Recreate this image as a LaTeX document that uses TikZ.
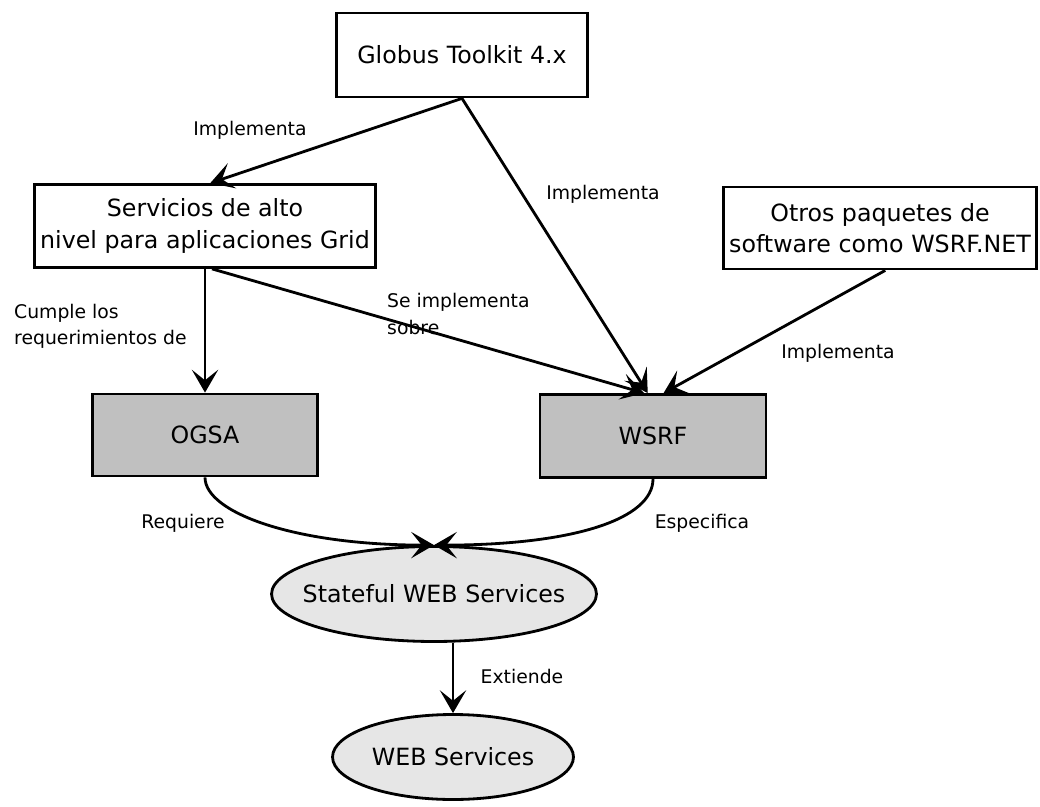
\documentclass[tikz,border=0pt]{standalone}
\usepackage{fontspec}
\setmainfont{DejaVu Sans}
\usetikzlibrary{arrows.meta, shapes.geometric}
\definecolor{boxgray}{RGB}{192,192,192}
\definecolor{ellgray}{RGB}{230,230,230}

\begin{document}
\begin{tikzpicture}
    [x=0.02cm, y=0.02cm,
     every node/.style={font=\fontsize{13.5}{18}\selectfont},
     box/.style={draw, line width=1.6pt, align=center, inner sep=0pt},
     grisbox/.style={box, fill=boxgray},
     nube/.style={ellipse, draw, line width=1.6pt, fill=ellgray, inner xsep=-20pt, inner ysep=0pt},
     etiqueta/.style={font=\fontsize{10.7}{15}\selectfont, align=left},
     flecha/.style={line width=1.6pt, -{Stealth[length=13pt, width=15pt, inset=6pt]}}]

    \useasboundingbox (0,0) rectangle (1040,-807);

    % cajas
    \node[box, minimum width=5.02cm, minimum height=1.68cm] (globus) at (462,-55) {Globus Toolkit 4.x};
    \node[box, minimum width=6.82cm, minimum height=1.66cm] (servicios) at (205,-226)
      {Servicios de alto\\nivel para aplicaciones Grid};
    \node[box, minimum width=6.26cm, minimum height=1.64cm] (otros) at (880,-228)
      {Otros paquetes de\\software como WSRF.NET};
    \node[grisbox, minimum width=4.5cm, minimum height=1.64cm] (ogsa) at (205,-435) {OGSA};
    \node[grisbox, minimum width=4.52cm, minimum height=1.66cm] (wsrf) at (653,-436) {WSRF};
    \node[nube, minimum width=6.5cm, minimum height=1.9cm] (stateful) at (434,-594) {Stateful WEB Services};
    \node[nube, minimum width=4.82cm, minimum height=1.7cm] (web) at (453,-757) {WEB Services};

    % flechas
    \draw[flecha] (globus.south) -- ([xshift=3pt]servicios.north);
    \draw[flecha] (globus.south) -- ([xshift=-3pt]wsrf.north);
    \draw[flecha] (servicios.south) -- (ogsa.north);
    \draw[flecha] ([xshift=4pt]servicios.south) -- ([xshift=-5pt]wsrf.north);
    \draw[flecha] ([xshift=3pt]otros.south) -- ([xshift=6pt]wsrf.north);
    \draw[flecha] (ogsa.south) .. controls +(0,-35) and +(-140,0) .. (stateful.north);
    \draw[flecha] (wsrf.south) .. controls +(0,-40) and +(140,0) .. (stateful.north);
    \draw[flecha] (web.north |- stateful.south) -- (web.north);

    % etiquetas
    \node[etiqueta] (implA) at (250,-130) {Implementa};
    \node[etiqueta] (implB) at (603,-194) {Implementa};
    \node[etiqueta] (implC) at (838,-353) {Implementa};
    \node[etiqueta, anchor=west] (cumple) at (8,-326) {Cumple los\\requerimientos de};
    \node[etiqueta, anchor=west] (sobre) at (381,-314) {Se implementa\\sobre};
    \node[etiqueta] (requiere) at (183,-523) {Requiere};
    \node[etiqueta] (especifica) at (702,-523) {Especifica};
    \node[etiqueta] (extiende) at (522,-676) {Extiende};
  \end{tikzpicture}
\end{document}
